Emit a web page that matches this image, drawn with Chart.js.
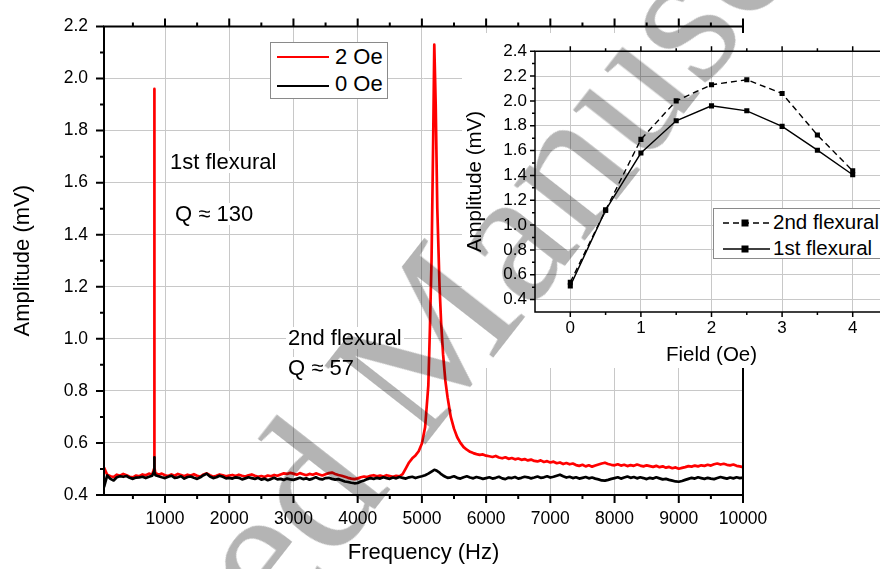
<!DOCTYPE html>
<html>
<head>
<meta charset="utf-8">
<script src="https://cdn.jsdelivr.net/npm/chart.js@4.4.1/dist/chart.umd.min.js"></script>
<style>
  html, body { margin: 0; padding: 0; background: #fff; overflow: hidden; }
  #wrap { position: relative; width: 880px; height: 569px; overflow: hidden; }
  #mainChart { position: absolute; left: 0; top: 0; }
  .note { position: absolute; font: 22px 'Liberation Sans', Arial, sans-serif; line-height: 1; color: #000; background: #fff; padding: 0 2px; white-space: nowrap; }
  #legMain { position: absolute; left: 270px; top: 42px; width: 116px; height: 55px; border: 1px solid #8a8a8a; background: #fff; }
  #insetBox { position: absolute; left: 462px; top: 33px; width: 430px; height: 335px; background: #fff; }
  #legInset { position: absolute; left: 713px; top: 208px; width: 200px; height: 49px; border: 1px solid #8a8a8a; background: #fff; }
  .smp { position: absolute; }
  .lt { position: absolute; font: 22px 'Liberation Sans', Arial, sans-serif; line-height: 1; white-space: nowrap; }
  .lt2 { position: absolute; font: 20.5px 'Liberation Sans', Arial, sans-serif; line-height: 1; white-space: nowrap; }
  #wm { position: absolute; left: 402px; top: 368px; transform: translate(-50%, -50%) rotate(-52deg);
        font: 195px 'Liberation Serif', 'Times New Roman', serif; line-height: 1; color: #b4b4b4;
        white-space: nowrap; mix-blend-mode: multiply; pointer-events: none; }
</style>
</head>
<body>
<div id="wrap">
  <canvas id="mainChart" width="880" height="569"></canvas>

  <div class="note" style="left:168px;top:151px">1st flexural</div>
  <div class="note" style="left:173px;top:203px">Q &#8776; 130</div>
  <div class="note" style="left:286px;top:327px">2nd flexural</div>
  <div class="note" style="left:286px;top:357px">Q &#8776; 57</div>

  <div id="legMain">
    <div class="smp" style="left:6px;top:13px;width:52px;height:2px;background:#ff0000"></div>
    <div class="smp" style="left:6px;top:42px;width:52px;height:2px;background:#000"></div>
    <div class="lt" style="left:64px;top:3px">2 Oe</div>
    <div class="lt" style="left:64px;top:30px">0 Oe</div>
  </div>

  <div id="insetBox"><canvas id="insetChart" width="430" height="335"></canvas></div>

  <div id="legInset">
    <canvas id="legInsetSmp" width="56" height="49" style="position:absolute;left:0;top:0"></canvas>
    <div class="lt2" style="left:59px;top:3px">2nd flexural</div>
    <div class="lt2" style="left:59px;top:29px">1st flexural</div>
  </div>

  <div id="wm">Accepted Manuscript</div>
</div>

<script>
// Frequency response, main panel
var freqHz = [
  50, 100, 150, 200, 250, 300, 350, 400, 450, 500, 550, 600, 650, 700, 750, 800,
  829, 833, 837,
  850, 900, 950, 1000, 1050, 1100, 1150, 1200, 1250, 1300, 1350, 1400, 1450, 1500, 1550, 1600, 1650, 1700, 1750, 1800, 1850, 1900, 1950, 2000,
  2050, 2100, 2150, 2200, 2250, 2300, 2350, 2400, 2450, 2500, 2550, 2600, 2650, 2700, 2750, 2800, 2850, 2900, 2950, 3000,
  3050, 3100, 3150, 3200, 3250, 3300, 3350, 3400, 3450, 3500, 3550, 3600, 3650, 3700, 3750, 3800, 3850, 3900, 3950, 4000,
  4050, 4100, 4150, 4200, 4250, 4300, 4350, 4400, 4450, 4500, 4550, 4600, 4650, 4700, 4750, 4800, 4850, 4900, 4950, 5000, 5050, 5100,
  5125, 5150, 5175, 5193, 5215, 5240, 5275, 5300, 5330, 5365, 5400,
  5450, 5500, 5550, 5600, 5650, 5700, 5750, 5800, 5850, 5900, 5950, 6000,
  6050, 6100, 6150, 6200, 6250, 6300, 6350, 6400, 6450, 6500, 6550, 6600, 6650, 6700, 6750, 6800, 6850, 6900, 6950, 7000,
  7050, 7100, 7150, 7200, 7250, 7300, 7350, 7400, 7450, 7500, 7550, 7600, 7650, 7700, 7750, 7800, 7850, 7900, 7950, 8000,
  8050, 8100, 8150, 8200, 8250, 8300, 8350, 8400, 8450, 8500, 8550, 8600, 8650, 8700, 8750, 8800, 8850, 8900, 8950, 9000,
  9050, 9100, 9150, 9200, 9250, 9300, 9350, 9400, 9450, 9500, 9550, 9600, 9650, 9700, 9750, 9800, 9850, 9900, 9950, 10000
];

// 2 Oe (red)
var amp2Oe = [
  0.505, 0.478, 0.472, 0.469, 0.478, 0.474, 0.481, 0.476, 0.470, 0.468, 0.475, 0.472, 0.479, 0.476, 0.482, 0.478,
  0.500, 1.960, 0.505,
  0.485, 0.478, 0.482, 0.476, 0.473, 0.479, 0.474, 0.481, 0.477, 0.472, 0.478, 0.475, 0.480, 0.474, 0.471, 0.479, 0.483, 0.476, 0.470, 0.474, 0.479, 0.476, 0.472, 0.475,
  0.477, 0.473, 0.478, 0.474, 0.471, 0.476, 0.479, 0.474, 0.470, 0.473, 0.469, 0.475, 0.472, 0.477, 0.474, 0.479, 0.483, 0.481, 0.485, 0.482,
  0.478, 0.484, 0.480, 0.476, 0.481, 0.478, 0.483, 0.479, 0.475, 0.480, 0.484, 0.486, 0.481, 0.477, 0.474, 0.470, 0.466, 0.463, 0.461, 0.464,
  0.468, 0.471, 0.469, 0.474, 0.476, 0.472, 0.475, 0.471, 0.476, 0.473, 0.470, 0.474, 0.472, 0.480, 0.502, 0.525, 0.541, 0.552, 0.568, 0.598, 0.660, 0.820,
  1.040, 1.300, 1.750, 2.130, 1.900, 1.500, 1.200, 1.060, 0.940, 0.840, 0.775,
  0.700, 0.655, 0.622, 0.600, 0.584, 0.574, 0.566, 0.561, 0.557, 0.554, 0.556, 0.551,
  0.549, 0.546, 0.550, 0.544, 0.541, 0.545, 0.539, 0.542, 0.537, 0.540, 0.535, 0.538, 0.533, 0.536, 0.531, 0.529, 0.533, 0.527, 0.530, 0.525,
  0.528, 0.522, 0.525, 0.519, 0.523, 0.518, 0.521, 0.515, 0.512, 0.516, 0.510, 0.514, 0.509, 0.513, 0.517, 0.521, 0.524, 0.519, 0.516, 0.514,
  0.518, 0.513, 0.516, 0.511, 0.515, 0.512, 0.517, 0.513, 0.510, 0.514, 0.511, 0.508, 0.512, 0.507, 0.510, 0.505, 0.508, 0.503, 0.506, 0.501,
  0.504, 0.507, 0.511, 0.509, 0.513, 0.510, 0.514, 0.512, 0.516, 0.513, 0.518, 0.521, 0.517, 0.520, 0.516, 0.514, 0.517, 0.512, 0.510, 0.507
];

// 0 Oe (black)
var amp0Oe = [
  0.430, 0.475, 0.462, 0.456, 0.468, 0.472, 0.470, 0.473, 0.466, 0.462, 0.467, 0.468, 0.470, 0.465, 0.470, 0.474,
  0.490, 0.545, 0.488,
  0.476, 0.472, 0.468, 0.465, 0.470, 0.474, 0.466, 0.468, 0.472, 0.463, 0.469, 0.471, 0.466, 0.462, 0.468, 0.476, 0.482, 0.471, 0.465, 0.468, 0.474, 0.470, 0.464, 0.466,
  0.463, 0.468, 0.466, 0.460, 0.464, 0.468, 0.465, 0.462, 0.466, 0.459, 0.463, 0.457, 0.461, 0.466, 0.460, 0.462, 0.458, 0.463, 0.460, 0.458,
  0.462, 0.466, 0.461, 0.464, 0.459, 0.463, 0.468, 0.462, 0.460, 0.465, 0.466, 0.462, 0.459, 0.461, 0.457, 0.452, 0.450, 0.447, 0.445, 0.446,
  0.452, 0.456, 0.461, 0.465, 0.462, 0.466, 0.463, 0.468, 0.465, 0.462, 0.467, 0.464, 0.469, 0.466, 0.463, 0.468, 0.470, 0.465, 0.469, 0.472, 0.476, 0.482,
  0.486, 0.490, 0.494, 0.497, 0.495, 0.492, 0.486, 0.480, 0.475, 0.470, 0.466,
  0.468, 0.472, 0.466, 0.463, 0.468, 0.472, 0.467, 0.464, 0.469, 0.466, 0.462, 0.465,
  0.468, 0.463, 0.466, 0.470, 0.464, 0.461, 0.467, 0.465, 0.469, 0.463, 0.466, 0.470, 0.468, 0.464, 0.467, 0.471, 0.466, 0.468, 0.472, 0.467,
  0.470, 0.474, 0.478, 0.472, 0.467, 0.470, 0.465, 0.468, 0.463, 0.466, 0.469, 0.464, 0.467, 0.463, 0.460, 0.456, 0.455, 0.458, 0.462, 0.465,
  0.468, 0.463, 0.467, 0.471, 0.466, 0.469, 0.464, 0.468, 0.465, 0.461, 0.466, 0.463, 0.468, 0.464, 0.460, 0.462, 0.458, 0.455, 0.452, 0.451,
  0.454, 0.458, 0.462, 0.466, 0.463, 0.468, 0.465, 0.462, 0.466, 0.463, 0.461, 0.465, 0.469, 0.466, 0.463, 0.467, 0.464, 0.468, 0.465, 0.467
];

var freqTicks = [1000, 2000, 3000, 4000, 5000, 6000, 7000, 8000, 9000, 10000];
var ampTicks = [0.4, 0.6, 0.8, 1.0, 1.2, 1.4, 1.6, 1.8, 2.0, 2.2];

// Inset: amplitude vs field
var fieldOe = [0, 0.5, 1, 1.5, 2, 2.5, 3, 3.5, 4];
var amp2ndFlex = [0.54, 1.12, 1.69, 2.00, 2.13, 2.17, 2.06, 1.725, 1.437];
var amp1stFlex = [0.51, 1.12, 1.58, 1.84, 1.96, 1.92, 1.795, 1.603, 1.405];
var fieldTicks = [0, 1, 2, 3, 4];
var insetAmpTicks = [0.4, 0.6, 0.8, 1.0, 1.2, 1.4, 1.6, 1.8, 2.0, 2.2, 2.4];

var sans = "'Liberation Sans', Arial, sans-serif";

function midpoints(arr) {
  var out = [];
  for (var i = 0; i < arr.length - 1; i++) out.push((arr[i] + arr[i + 1]) / 2);
  return out;
}

function pairs(xs, ys) {
  return xs.map(function (x, i) { return { x: x, y: ys[i] }; });
}

// axis frame with major/minor ticks (Origin style)
var framePlugin = {
  id: 'frame',
  afterDatasetsDraw: function (chart, args, o) {
    var ctx = chart.ctx, a = chart.chartArea, x = chart.scales.x, y = chart.scales.y;
    ctx.save();
    ctx.strokeStyle = '#000';
    ctx.lineWidth = o.width;
    ctx.lineCap = 'square';
    ctx.beginPath();
    ctx.moveTo(a.left, a.top); ctx.lineTo(a.left, a.bottom);
    ctx.moveTo(a.left, a.bottom); ctx.lineTo(a.right, a.bottom);
    ctx.moveTo(a.left, a.top); ctx.lineTo(a.right, a.top);
    if (o.right) { ctx.moveTo(a.right, a.top); ctx.lineTo(a.right, a.bottom); }
    ctx.stroke();
    ctx.lineCap = 'butt';
    ctx.beginPath();
    function xt(list, len) {
      list.forEach(function (v) {
        var px = x.getPixelForValue(v);
        if (px < a.left - 1 || px > a.right + 1) return;
        ctx.moveTo(px, a.bottom); ctx.lineTo(px, a.bottom + len);
        ctx.moveTo(px, a.top); ctx.lineTo(px, a.top - len);
      });
    }
    function yt(list, len) {
      list.forEach(function (v) {
        var py = y.getPixelForValue(v);
        ctx.moveTo(a.left, py); ctx.lineTo(a.left - len, py);
      });
    }
    xt(o.xMajor, o.major); xt(midpoints(o.xMajor).concat(o.xMinorExtra || []), o.minor);
    yt(o.yMajor, o.major); yt(midpoints(o.yMajor), o.minor);
    ctx.stroke();
    ctx.restore();
  }
};

// main chart
var mainCtx = document.getElementById('mainChart').getContext('2d');
var mainChart = new Chart(mainCtx, {
  type: 'line',
  data: {
    datasets: [
      { label: '2 Oe', data: pairs(freqHz, amp2Oe), borderColor: '#ff0000', borderWidth: 2.7, order: 2 },
      { label: '0 Oe', data: pairs(freqHz, amp0Oe), borderColor: '#000000', borderWidth: 2.7, order: 1 }
    ]
  },
  options: {
    responsive: false,
    animation: false,
    devicePixelRatio: 1,
    layout: { padding: { top: 19, right: 137, left: 0, bottom: 0 } },
    elements: { point: { radius: 0 }, line: { tension: 0, borderJoinStyle: 'round' } },
    plugins: {
      legend: { display: false },
      tooltip: { enabled: false },
      frame: { width: 2, major: 8, minor: 4, right: true, xMajor: freqTicks, xMinorExtra: [500], yMajor: ampTicks }
    },
    scales: {
      x: {
        type: 'linear', min: 50, max: 10000,
        afterBuildTicks: function (s) { s.ticks = freqTicks.map(function (v) { return { value: v }; }); },
        afterFit: function (s) { s.height = 74; },
        grid: { color: '#c8c8c8', lineWidth: 1, drawTicks: false },
        border: { display: false },
        ticks: { padding: 14, color: '#000', maxRotation: 0, autoSkip: false, font: { family: sans, size: 17.5 },
                 callback: function (v) { return String(v); } },
        title: { display: true, text: 'Frequency (Hz)', color: '#000', font: { family: sans, size: 22 }, padding: { top: 0, bottom: 3 } }
      },
      y: {
        type: 'linear', min: 0.4, max: 2.2,
        afterBuildTicks: function (s) { s.ticks = ampTicks.map(function (v) { return { value: v }; }); },
        afterFit: function (s) { s.width = 104; },
        grid: { color: '#c8c8c8', lineWidth: 1, drawTicks: false },
        border: { display: false },
        ticks: { padding: 16, color: '#000', font: { family: sans, size: 17.5 },
                 callback: function (v) { return v.toFixed(1); } },
        title: { display: true, text: 'Amplitude (mV)', color: '#000', font: { family: sans, size: 22 }, padding: { top: 10, bottom: 0 } }
      }
    }
  },
  plugins: [framePlugin]
});

// inset chart
var insetCtx = document.getElementById('insetChart').getContext('2d');
var insetChart = new Chart(insetCtx, {
  type: 'line',
  data: {
    datasets: [
      { label: '2nd flexural', data: pairs(fieldOe, amp2ndFlex), borderColor: '#000', borderWidth: 1.4, borderDash: [6, 4],
        pointStyle: 'rect', pointRadius: 3.6, pointBackgroundColor: '#000', pointBorderColor: '#000', pointBorderWidth: 0 },
      { label: '1st flexural', data: pairs(fieldOe, amp1stFlex), borderColor: '#000', borderWidth: 1.4,
        pointStyle: 'rect', pointRadius: 3.6, pointBackgroundColor: '#000', pointBorderColor: '#000', pointBorderWidth: 0 }
    ]
  },
  options: {
    responsive: false,
    animation: false,
    devicePixelRatio: 1,
    layout: { padding: { top: 14, right: 2.5, left: 0, bottom: 0 } },
    elements: { line: { tension: 0 } },
    plugins: {
      legend: { display: false },
      tooltip: { enabled: false },
      frame: { width: 1.5, major: 5, minor: 3, right: false, xMajor: fieldTicks, xMinorExtra: [], yMajor: insetAmpTicks }
    },
    scales: {
      x: {
        type: 'linear', min: -0.5, max: 4.5,
        afterBuildTicks: function (s) { s.ticks = fieldTicks.map(function (v) { return { value: v }; }); },
        afterFit: function (s) { s.height = 56; },
        grid: { color: '#c8c8c8', lineWidth: 1, drawTicks: false },
        border: { display: false },
        ticks: { padding: 6, color: '#000', maxRotation: 0, autoSkip: false, font: { family: sans, size: 17 },
                 callback: function (v) { return String(v); } },
        title: { display: true, text: 'Field (Oe)', color: '#000', font: { family: sans, size: 20.5 }, padding: { top: 0, bottom: 0 } }
      },
      y: {
        type: 'linear', min: 0.3, max: 2.4,
        afterBuildTicks: function (s) { s.ticks = insetAmpTicks.map(function (v) { return { value: v }; }); },
        afterFit: function (s) { s.width = 73; },
        grid: { color: '#c8c8c8', lineWidth: 1, drawTicks: false },
        border: { display: false },
        ticks: { padding: 8, color: '#000', font: { family: sans, size: 17 },
                 callback: function (v) { return v.toFixed(1); } },
        title: { display: true, text: 'Amplitude (mV)', color: '#000', font: { family: sans, size: 20.5 }, padding: { top: 1, bottom: 0 } }
      }
    }
  },
  plugins: [framePlugin]
});

// inset legend samples (line + square marker)
(function () {
  var c = document.getElementById('legInsetSmp').getContext('2d');
  function sample(yy, dash) {
    c.save();
    c.strokeStyle = '#000'; c.lineWidth = 1.4; c.setLineDash(dash);
    c.beginPath(); c.moveTo(9, yy); c.lineTo(57, yy); c.stroke();
    c.fillStyle = '#000'; c.fillRect(27.5, yy - 3.5, 7, 7);
    c.restore();
  }
  sample(14, [6, 4]);
  sample(40, []);
})();
</script>
</body>
</html>
